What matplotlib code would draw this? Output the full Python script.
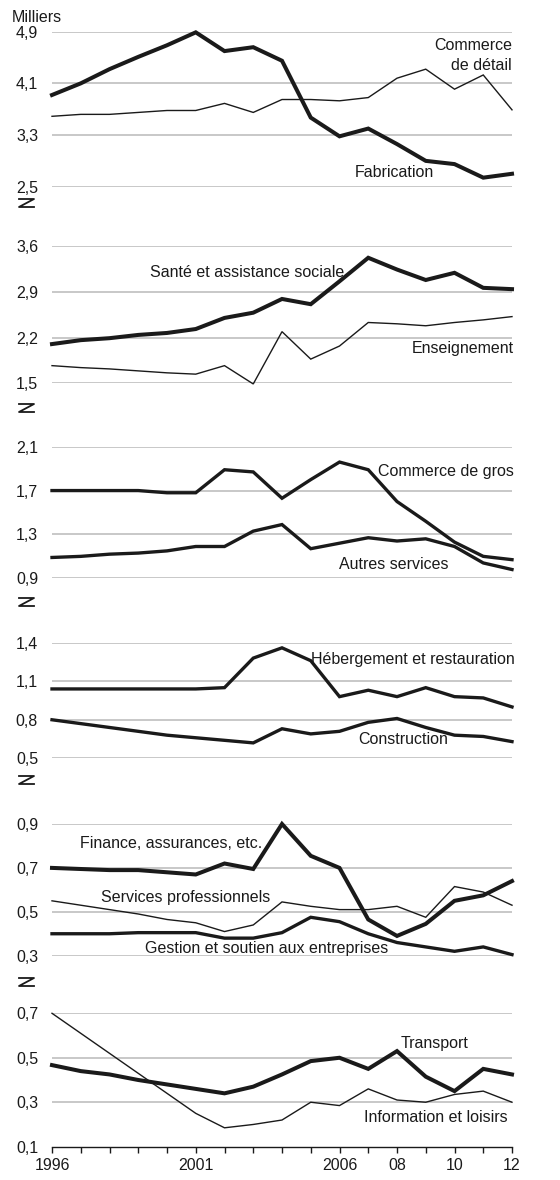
import matplotlib
matplotlib.use("Agg")
import matplotlib.pyplot as plt
from matplotlib.lines import Line2D

plt.rcParams['font.family'] = ['Liberation Sans Narrow', 'Liberation Sans', 'DejaVu Sans']

years = list(range(1996, 2013))
xtick_labels = ["1996", "2001", "2006", "08", "10", "12"]
xtick_years = [1996, 2001, 2006, 2008, 2010, 2012]

# Panel 1
fabrication = [3.92, 4.10, 4.32, 4.51, 4.69, 4.89, 4.60, 4.66, 4.45, 3.57, 3.28, 3.40, 3.16, 2.90, 2.85, 2.64, 2.70]
commerce_detail = [3.59, 3.62, 3.62, 3.65, 3.68, 3.68, 3.79, 3.65, 3.85, 3.85, 3.83, 3.88, 4.18, 4.32, 4.01, 4.23, 3.69]
# Panel 2
sante = [2.10, 2.16, 2.19, 2.24, 2.27, 2.33, 2.50, 2.58, 2.79, 2.71, 3.06, 3.42, 3.24, 3.08, 3.19, 2.96, 2.94]
enseignement = [1.77, 1.74, 1.72, 1.69, 1.66, 1.64, 1.77, 1.49, 2.29, 1.87, 2.07, 2.43, 2.41, 2.38, 2.43, 2.47, 2.52]
# Panel 3
commerce_gros = [1.70, 1.70, 1.70, 1.70, 1.68, 1.68, 1.89, 1.87, 1.63, 1.80, 1.96, 1.89, 1.60, 1.42, 1.23, 1.10, 1.07]
autres_services = [1.09, 1.10, 1.12, 1.13, 1.15, 1.19, 1.19, 1.33, 1.39, 1.17, 1.22, 1.27, 1.24, 1.26, 1.19, 1.04, 0.98]
# Panel 4
hebergement = [1.04, 1.04, 1.04, 1.04, 1.04, 1.04, 1.05, 1.28, 1.36, 1.26, 0.98, 1.03, 0.98, 1.05, 0.98, 0.97, 0.90]
construction = [0.80, 0.77, 0.74, 0.71, 0.68, 0.66, 0.64, 0.62, 0.73, 0.69, 0.71, 0.78, 0.81, 0.74, 0.68, 0.67, 0.63]
# Panel 5
finance = [0.70, 0.695, 0.69, 0.69, 0.68, 0.67, 0.72, 0.695, 0.90, 0.755, 0.70, 0.465, 0.39, 0.445, 0.55, 0.575, 0.64]
services_pro = [0.55, 0.53, 0.51, 0.49, 0.465, 0.45, 0.41, 0.44, 0.545, 0.525, 0.51, 0.51, 0.525, 0.475, 0.615, 0.59, 0.53]
gestion = [0.40, 0.40, 0.40, 0.405, 0.405, 0.405, 0.38, 0.38, 0.405, 0.475, 0.455, 0.40, 0.36, 0.34, 0.32, 0.34, 0.305]
# Panel 6
transport = [0.467, 0.44, 0.425, 0.40, 0.38, 0.36, 0.34, 0.37, 0.425, 0.485, 0.50, 0.45, 0.53, 0.415, 0.35, 0.45, 0.425]
info_loisirs = [0.70, 0.61, 0.52, 0.43, 0.34, 0.25, 0.185, 0.20, 0.22, 0.30, 0.285, 0.36, 0.31, 0.30, 0.335, 0.35, 0.30]

W, H = 560, 1180
fig = plt.figure(figsize=(W / 100, H / 100), dpi=100)

LEFT, RIGHT = 52, 512
TXT = '#1a1a1a'
GRID = '#c8c8c8'
FS = 11.5
THICK, MED, THIN = 2.9, 2.4, 1.0

panels = [
    dict(top=31.7, bot=186.7, ticks=[2.5, 3.3, 4.1, 4.9], labels=["2,5", "3,3", "4,1", "4,9"],
         series=[(fabrication, THICK), (commerce_detail, THIN)],
         texts=[("Commerce\nde détail", 2012, 4.53, 'right'), ("Fabrication", 2007.9, 2.72, 'center')],
         brk=203),
    dict(top=246, bot=383.3, ticks=[1.5, 2.2, 2.9, 3.6], labels=["1,5", "2,2", "2,9", "3,6"],
         series=[(sante, THICK), (enseignement, THIN)],
         texts=[("Santé et assistance sociale", 2002.8, 3.19, 'center'), ("Enseignement", 2012.05, 2.03, 'right')],
         brk=408),
    dict(top=446.7, bot=578.3, ticks=[0.9, 1.3, 1.7, 2.1], labels=["0,9", "1,3", "1,7", "2,1"],
         series=[(commerce_gros, MED), (autres_services, MED)],
         texts=[("Commerce de gros", 2012.05, 1.87, 'right'), ("Autres services", 2007.9, 1.03, 'center')],
         brk=602),
    dict(top=642.7, bot=758.3, ticks=[0.5, 0.8, 1.1, 1.4], labels=["0,5", "0,8", "1,1", "1,4"],
         series=[(hebergement, MED), (construction, MED)],
         texts=[("Hébergement et restauration", 2012.1, 1.27, 'right'), ("Construction", 2008.2, 0.646, 'center')],
         brk=780),
    dict(top=824, bot=955.7, ticks=[0.3, 0.5, 0.7, 0.9], labels=["0,3", "0,5", "0,7", "0,9"],
         series=[(finance, THICK), (services_pro, THIN), (gestion, MED)],
         texts=[("Finance, assurances, etc.", 2000.15, 0.81, 'center'),
                ("Services professionnels", 2000.65, 0.564, 'center'),
                ("Gestion et soutien aux entreprises", 2003.45, 0.332, 'center')],
         brk=982),
    dict(top=1013.3, bot=1146.7, ticks=[0.1, 0.3, 0.5, 0.7], labels=["0,1", "0,3", "0,5", "0,7"],
         series=[(transport, THICK), (info_loisirs, THIN)],
         texts=[("Transport", 2009.3, 0.566, 'center'), ("Information et loisirs", 2009.35, 0.23, 'center')],
         brk=None),
]

for i, p in enumerate(panels):
    ax = fig.add_axes([LEFT / W, 1 - p['bot'] / H, (RIGHT - LEFT) / W, (p['bot'] - p['top']) / H])
    ax.set_xlim(1996, 2012)
    ax.set_ylim(p['ticks'][0], p['ticks'][-1])
    for t in p['ticks']:
        if i == 5 and t == p['ticks'][0]:
            continue
        ax.axhline(t, color=GRID, lw=1.4, zorder=1)
    for vals, lw in p['series']:
        ax.plot(years, vals, color=TXT, lw=lw, zorder=3, solid_joinstyle='miter', clip_on=False)
    for s in ax.spines.values():
        s.set_visible(False)
    ax.set_yticks(p['ticks'])
    ax.set_yticklabels(p['labels'])
    ax.tick_params(axis='y', length=0, pad=10, labelsize=FS, labelcolor=TXT)
    if i == 5:
        ax.spines['bottom'].set_visible(True)
        ax.spines['bottom'].set_color(TXT)
        ax.spines['bottom'].set_linewidth(1.0)
        ax.set_xticks(years, minor=True)
        ax.set_xticks(xtick_years)
        ax.set_xticklabels(xtick_labels)
        ax.tick_params(axis='x', which='both', direction='out', length=4, width=1.0, color=TXT,
                       labelsize=FS, labelcolor=TXT, pad=4)
    else:
        ax.set_xticks([])
    for txt, x, y, ha in p['texts']:
        ax.text(x, y, txt, ha=ha, va='center', fontsize=FS, color=TXT, zorder=4,
                linespacing=1.35)
    if p['brk'] is not None:
        yc = p['brk']
        x0, x1 = 19, 34
        yt, yb = yc - 4, yc + 4
        xs = [x0 / W, x1 / W, x0 / W, x1 / W]
        ys = [1 - yt / H, 1 - yt / H, 1 - yb / H, 1 - yb / H]
        fig.add_artist(Line2D(xs, ys, color=TXT, lw=1.3))

fig.text(12 / W, 1 - 17 / H, "Milliers", ha='left', va='center', fontsize=FS, color=TXT)

fig.savefig("out.png", dpi=100)
